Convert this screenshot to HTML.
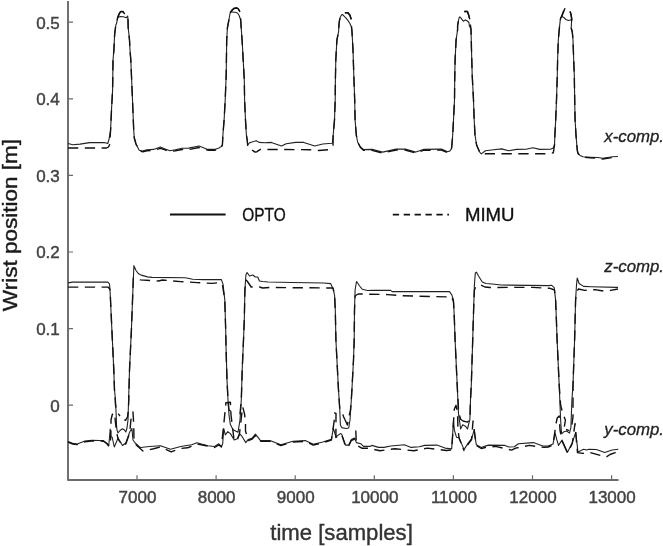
<!DOCTYPE html>
<html><head><meta charset="utf-8"><style>
html,body{margin:0;padding:0;background:#fff;width:663px;height:546px;overflow:hidden}
svg{display:block;will-change:transform}
text{font-family:"Liberation Sans",sans-serif}
</style></head><body>
<svg width="663" height="546" viewBox="0 0 663 546">
<rect width="663" height="546" fill="#fff"/>
<path d="M68 1V480H618.5" fill="none" stroke="#6a6a6a" stroke-width="1.9" stroke-linejoin="round"/>
<path d="M68 22.2H73M68 98.8H73M68 175.4H73M68 252.0H73M68 328.6H73M68 405.2H73M137.0 480V475.3M216.1 480V475.3M295.2 480V475.3M374.3 480V475.3M453.4 480V475.3M532.5 480V475.3M611.6 480V475.3" fill="none" stroke="#6a6a6a" stroke-width="1.2"/>
<g fill="none" stroke="#222" stroke-width="1.1" stroke-linejoin="round">
<path d="M68.0 143.5L72.8 144.7L80.0 144.1L89.7 142.6L104.2 142.5L107.8 143.5L109.0 139.3L110.6 130.0L111.5 110.0L112.6 90.0L113.0 60.0L113.9 50.0L114.6 35.0L115.4 28.0L115.9 25.0L116.7 23.0L117.2 20.0L117.7 17.4L120.3 16.5L123.3 16.7L126.4 17.7L127.7 16.0L128.0 20.0L128.2 28.0L129.0 35.0L129.5 40.0L130.0 50.0L130.8 60.0L132.5 100.0L133.7 130.0L134.3 138.0L136.0 144.0L139.2 150.2L142.8 151.0L146.8 149.8L153.6 149.4L160.4 147.1L164.4 148.7L169.9 150.8L175.3 149.8L182.0 148.3L188.8 148.1L199.0 146.0L207.8 149.4L214.6 149.4L219.0 148.0L221.4 146.4L222.4 145.0L222.9 135.0L224.1 120.0L225.2 100.0L226.2 75.0L226.7 40.0L227.4 28.0L227.9 25.0L228.7 21.0L229.4 17.0L230.2 13.0L231.2 11.5L233.3 12.3L235.3 12.3L237.4 13.0L238.9 15.0L240.0 18.0L240.7 20.0L241.2 28.0L242.1 40.0L243.2 60.0L244.3 80.0L244.6 100.0L245.5 120.0L246.4 135.0L247.2 140.0L247.7 145.0L249.7 142.7L256.3 140.7L259.0 142.4L264.5 142.7L271.3 142.4L281.5 146.0L286.2 143.7L295.7 142.4L303.8 142.4L314.7 146.0L322.8 144.0L331.7 143.3L332.4 143.0L333.2 135.0L334.5 120.0L335.2 100.0L335.4 80.0L335.8 60.0L336.9 40.0L338.6 31.7L338.9 25.5L339.4 20.9L340.2 17.3L341.7 14.8L342.5 14.5L343.8 15.8L345.8 17.8L347.9 20.4L349.9 23.5L351.5 27.1L352.0 31.7L353.0 50.0L353.8 75.0L354.7 100.0L355.1 120.0L356.3 135.0L357.6 142.0L360.4 147.0L363.7 149.6L372.0 149.4L382.6 152.1L396.2 149.1L405.2 149.1L415.8 152.1L423.3 149.4L441.4 149.1L447.5 151.8L449.9 150.9L451.3 149.1L451.9 145.0L452.7 135.0L453.5 120.0L454.5 100.0L454.7 80.0L455.1 60.0L456.1 40.0L457.6 29.7L457.6 25.6L458.4 21.0L459.2 17.4L459.9 16.9L461.2 18.4L463.3 21.2L465.3 19.9L467.4 21.0L468.9 22.5L469.4 26.1L471.0 29.2L471.5 50.0L472.2 75.0L473.5 100.0L474.2 120.0L475.0 135.0L476.6 145.0L479.6 152.0L481.3 153.9L485.4 150.8L493.6 149.7L501.7 148.9L508.5 150.8L516.6 149.4L526.1 149.2L532.9 147.8L539.7 149.4L550.6 149.2L553.2 148.0L554.5 145.0L554.9 135.0L555.7 120.0L556.5 100.0L557.3 75.0L557.6 60.0L558.3 40.0L559.4 28.0L560.2 20.5L560.7 17.9L561.7 16.4L563.8 17.4L565.8 19.5L568.4 20.5L570.4 20.0L571.7 19.0L571.5 23.0L571.2 28.0L572.3 32.0L573.0 40.0L573.7 60.0L574.3 75.0L574.7 100.0L575.1 120.0L576.0 135.0L576.8 145.0L577.3 150.0L578.0 153.0L580.0 155.5L583.0 156.8L590.0 157.2L597.8 157.5L602.7 158.3L612.6 156.7L618.0 156.5"/>
<path d="M68.0 282.9L72.5 282.1L108.0 282.1L109.5 284.0L110.0 290.0L111.9 330.0L113.8 370.0L114.5 390.0L115.5 400.0L116.2 415.0L116.5 425.0L117.0 430.0L118.0 433.0L120.0 430.5L122.5 428.8L124.5 430.0L125.8 432.0L127.0 428.0L128.0 420.0L128.6 400.0L129.5 370.0L131.4 330.0L132.9 290.0L133.5 275.0L133.9 265.6L136.0 270.5L138.6 273.8L142.0 275.4L147.6 276.9L152.0 277.4L185.2 277.8L192.8 279.3L203.3 279.6L221.4 279.6L223.0 284.1L224.8 300.0L225.7 330.0L226.1 350.0L227.0 380.0L228.0 400.0L229.0 415.0L230.4 424.6L233.0 429.7L238.0 432.3L240.0 420.0L241.3 400.0L242.2 370.0L243.5 340.0L244.3 320.0L244.9 290.0L245.9 275.0L247.1 272.5L249.5 276.0L252.8 275.0L255.3 277.0L257.8 277.0L259.4 281.0L262.7 281.5L268.1 282.0L292.6 282.5L323.8 283.0L330.6 283.6L333.3 289.2L334.6 295.6L335.3 310.0L335.9 340.0L338.5 390.0L339.7 408.0L340.4 425.0L341.7 427.6L346.2 428.5L348.7 428.0L350.0 420.0L351.3 400.0L351.9 390.0L353.5 360.0L354.2 340.0L354.5 310.0L355.1 290.0L356.4 282.0L356.8 281.7L359.6 286.0L362.2 289.2L367.3 290.5L372.5 290.4L390.6 290.4L392.1 291.6L449.5 291.6L451.7 294.6L453.5 300.0L454.4 320.0L455.1 340.0L457.2 385.0L458.5 413.8L459.9 423.5L460.6 429.0L462.7 424.8L465.4 426.2L467.5 429.0L468.8 423.5L469.9 419.3L470.5 400.0L471.3 385.0L472.7 340.0L473.6 310.0L474.4 285.0L475.3 273.0L476.5 272.2L478.5 276.0L482.3 282.0L486.0 283.5L492.0 284.0L501.3 285.0L548.8 285.6L551.5 285.2L554.2 287.6L555.6 300.0L556.4 320.0L557.1 340.0L559.2 385.0L560.6 419.3L561.3 430.3L561.7 433.8L564.0 431.7L566.8 431.0L569.5 433.1L570.9 427.6L571.9 400.0L573.0 385.0L574.6 340.0L575.6 300.0L576.5 285.0L577.2 278.0L579.1 283.5L583.6 286.4L591.3 286.7L616.9 287.4L618.0 287.4"/>
<path d="M68.0 441.5L72.8 443.4L77.3 444.0L84.9 441.1L91.6 440.2L99.9 440.5L103.5 440.6L107.1 443.4L108.8 445.5L110.2 429.0L111.0 437.0L112.1 437.0L114.3 447.0L118.1 438.0L122.5 445.5L125.8 443.0L129.7 432.0L131.9 428.5L133.0 440.0L135.2 443.0L139.6 447.0L140.7 447.5L149.5 446.5L160.4 445.8L170.5 449.2L180.7 446.5L191.6 444.7L197.0 442.8L207.8 445.8L214.6 446.5L218.8 443.8L221.4 446.4L222.7 443.8L223.7 428.5L225.3 434.9L227.8 431.7L230.4 433.6L234.2 440.0L237.4 438.7L239.4 433.6L241.9 436.2L245.8 442.6L248.3 439.4L252.2 438.1L255.4 434.2L258.6 438.1L260.4 440.6L269.9 440.6L280.8 444.8L293.0 441.3L305.2 440.6L313.3 444.2L322.8 442.0L331.4 439.4L333.3 428.5L334.6 432.3L335.9 436.8L340.4 433.6L341.7 434.2L345.5 445.1L348.7 445.1L351.3 439.4L354.5 438.1L356.4 442.6L360.9 443.8L363.5 446.4L369.9 446.4L371.8 445.4L378.6 447.4L384.0 447.4L390.8 446.0L404.3 444.7L411.1 447.4L419.3 446.7L424.7 445.4L436.9 445.1L445.0 448.1L451.7 448.9L453.5 420.7L454.4 430.3L456.5 437.2L459.2 437.9L464.0 449.6L467.5 444.1L471.6 438.6L474.3 429.6L475.0 437.2L476.4 444.8L481.2 447.5L485.3 446.1L488.6 445.1L504.9 445.4L508.9 447.0L514.3 446.7L518.4 443.7L533.3 442.6L542.8 446.0L548.2 446.1L553.0 444.1L555.1 433.1L556.5 438.6L558.5 445.4L562.0 440.0L567.5 452.3L572.3 442.7L575.7 432.3L577.2 445.1L577.9 451.9L580.6 450.7L583.6 449.2L586.6 450.0L588.9 449.2L596.4 449.5L604.7 452.6L607.7 451.5L612.2 450.0L618.3 449.2"/>
</g>
<g fill="none" stroke="#111" stroke-width="1.4" stroke-dasharray="10.3 6.5" stroke-linejoin="round">
<path d="M68.0 148.0L106.6 148.0L108.5 147.0L109.6 144.7L110.6 130.0L111.5 110.0L112.6 90.0L113.0 60.0L113.9 50.0L114.6 35.0L115.4 28.0L116.7 23.0L117.7 17.4L119.2 13.8L120.3 12.0L121.8 11.3L122.0 11.4" stroke-dashoffset="0.00"/>
<path d="M122.0 11.4L123.3 12.0L125.0 14.5L127.7 16.0L128.0 20.0L128.2 28.0L129.0 35.0L129.5 40.0L130.0 50.0L130.8 60.0L132.5 100.0L133.7 130.0L134.3 138.0L136.0 144.0L139.2 150.7L142.8 151.8L146.8 150.8L153.6 150.4L160.4 148.3L164.4 149.7L169.9 151.6L175.3 150.8L182.0 149.5L188.8 149.5L199.0 147.5L207.8 150.2L214.6 150.2L219.0 149.0L221.4 147.4L222.4 145.0L222.9 135.0L224.1 120.0L225.2 100.0L226.2 75.0L226.7 40.0L227.4 28.0L228.7 21.0L229.4 17.0L230.2 13.0L231.5 10.8L233.8 8.5L235.0 8.3" stroke-dashoffset="6.37"/>
<path d="M235.0 8.3L236.9 8.0L238.4 9.0L239.7 11.5L240.5 16.0L240.7 20.0L241.2 28.0L242.1 40.0L243.2 60.0L244.3 80.0L244.6 100.0L245.5 120.0L246.4 135.0L247.2 140.0L247.9 147.5L253.0 150.6L255.0 152.1L257.0 151.7L260.4 149.4L309.3 149.7L318.8 150.5L328.3 149.8L333.0 145.4L333.2 135.0L334.5 120.0L335.2 100.0L335.4 80.0L335.8 60.0L336.9 40.0L338.6 31.7L338.9 25.5L339.4 20.9L340.2 17.3L341.7 14.8L342.5 14.5L343.8 15.8M345.3 12.7L346.0 12.7" stroke-dashoffset="3.51"/>
<path d="M346.0 12.7L347.9 12.7L349.9 15.3L351.0 18.4L351.5 27.1L352.0 31.7L353.0 50.0L353.8 75.0L354.7 100.0L355.1 120.0L356.3 135.0L357.6 142.0L360.4 147.5L363.7 150.4L372.0 150.4L382.6 153.0L396.2 150.0L405.2 150.0L415.8 153.0L423.3 150.4L441.4 150.0L447.5 152.5L450.0 151.5L451.5 149.0L451.9 145.0L452.7 135.0L453.5 120.0L454.5 100.0L454.7 80.0L455.1 60.0L456.1 40.0L457.6 29.7L457.6 25.6L458.4 21.0L459.2 17.4L459.9 16.9M464.6 11.5L467.4 11.5L468.4 14.3L469.7 18.9L470.3 24.0L471.0 29.2L471.5 50.0L472.2 75.0L473.5 100.0L474.2 120.0L475.0 135.0L476.6 145.0L479.6 152.0L481.3 154.0L485.4 153.8L547.8 153.8L553.3 152.8L554.5 145.0L554.9 135.0L555.7 120.0L556.5 100.0L557.3 75.0L557.6 60.0L558.3 40.0L559.4 28.0L560.2 20.5L560.7 17.9L561.7 16.4L563.0 12.8L564.8 8.7M570.2 11.8L571.2 15.4L571.7 19.0L571.5 23.0L571.2 28.0L572.3 32.0L573.0 40.0L573.7 60.0L574.3 75.0L574.7 100.0L575.1 120.0L576.0 135.0L576.8 145.0L577.3 150.5L578.0 153.5L580.0 156.0L583.0 157.3L590.0 157.7L597.8 158.2L602.7 159.0L612.6 157.5L618.0 157.2" stroke-dashoffset="0.61"/>
<path d="M68.0 287.1L108.0 287.1L109.8 289.0L110.3 295.0L111.9 330.0L113.8 370.0L114.5 390.0L115.5 405.0L117.0 412.0L120.0 416.1" stroke-dashoffset="0.00"/>
<path d="M120.0 416.1L120.3 416.5L123.0 419.5L125.5 420.3L127.5 417.0L128.4 410.0L128.8 400.0L129.5 370.0L131.4 330.0L132.9 290.0L133.3 278.0L136.0 278.0L140.4 279.9L158.5 281.0L162.6 280.0L180.7 281.6L197.3 282.6L212.4 283.4L220.0 282.6L222.5 285.0L224.8 300.0L225.7 330.0L226.1 350.0L227.0 380.0L228.0 400.0L229.0 410.0L232.0 412.0L235.0 411.3" stroke-dashoffset="10.93"/>
<path d="M235.0 411.3L235.5 411.2L240.0 413.7L241.3 400.0L242.2 370.0L243.5 340.0L244.3 320.0L244.9 290.0L245.9 280.0L247.1 281.0L251.2 287.0L259.4 287.0L262.7 288.0L270.0 287.5L333.0 288.0L334.6 295.6L335.3 310.0L335.9 340.0L338.5 390.0L339.7 408.0L341.0 409.0L343.6 416.7L345.0 419.8" stroke-dashoffset="11.67"/>
<path d="M345.0 419.8L347.4 425.0L348.7 418.0L350.5 410.0L351.3 400.0L351.9 390.0L353.5 360.0L354.2 340.0L354.5 310.0L355.1 296.0L356.4 295.0L358.3 294.0L362.2 294.0L369.5 294.2L387.6 294.6L402.7 295.8L446.4 296.9L451.7 297.0L453.5 302.0L454.4 320.0L455.1 340.0L457.2 385.0L458.5 410.0L459.2 414.5L460.6 419.3L463.0 421.0" stroke-dashoffset="1.35"/>
<path d="M463.0 421.0L463.0 421.0L467.5 422.1L469.9 419.3L470.5 400.0L471.3 385.0L472.7 340.0L473.6 310.0L474.4 290.0L476.0 286.0L481.0 285.0L484.9 287.0L490.0 287.5L512.1 287.4L532.5 287.4L550.1 288.3L554.5 290.0L555.6 300.0L556.4 320.0L557.1 340.0L559.2 385.0L560.6 405.0L562.7 413.2L565.4 420.0L564.0 429.0L566.0 429.5" stroke-dashoffset="3.98"/>
<path d="M566.0 429.5L568.8 430.3L571.6 426.9L573.0 416.6L573.0 385.0L574.6 340.0L575.6 300.0L576.5 292.0L578.5 289.0L584.9 290.4L595.1 289.6L601.5 290.8L610.5 290.4L618.0 289.0" stroke-dashoffset="7.13"/>
<path d="M68.0 442.0L72.8 444.0L77.3 444.6L84.9 441.8L91.6 441.0L99.9 441.0L103.5 441.2L107.1 444.0L109.0 446.5L110.5 441.0L111.0 428.0L111.0 420.0L112.3 414.5L113.7 412.6L115.0 418.0L116.5 432.0L118.1 439.0L120.0 442.0" stroke-dashoffset="0.00"/>
<path d="M120.0 442.0L122.5 446.0L125.8 444.0L129.7 433.0L130.8 421.0L131.8 413.5L133.0 412.0L133.5 421.0L133.8 428.0L134.0 442.0L135.2 444.0L139.6 448.0L142.9 451.0L153.6 448.8L160.4 447.0L171.2 451.9L180.7 448.5L187.5 447.8L197.0 444.0L205.0 445.5L214.6 447.5L218.8 445.0L221.4 447.0L224.2 420.0L225.9 402.8L230.4 402.2L231.0 415.0L234.2 441.0L235.0 440.6" stroke-dashoffset="9.19"/>
<path d="M235.0 440.6L237.4 439.5L239.4 434.5L242.6 406.7L244.5 413.7L245.5 422.0L245.5 431.0L248.3 440.5L252.2 439.0L255.4 435.5L258.6 439.0L260.4 441.4L269.9 441.4L280.8 445.5L293.0 442.0L305.2 441.4L313.3 445.0L322.8 442.8L331.4 440.0L334.2 420.8L334.6 413.0L336.0 413.5L335.9 437.5L340.4 434.5L341.7 435.0L345.0 444.6" stroke-dashoffset="13.66"/>
<path d="M345.0 444.6L345.5 446.0L348.7 446.0L351.3 440.5L354.5 439.0L355.8 431.0L356.4 445.0L362.2 448.3L368.6 448.3L379.9 450.8L394.9 448.7L413.8 450.8L427.4 448.1L446.4 450.5L451.7 450.0L453.0 430.0L454.3 409.3L456.0 405.4L457.5 412.0L458.0 430.0L459.2 438.5L463.0 448.0" stroke-dashoffset="11.88"/>
<path d="M463.0 448.0L464.0 450.5L467.5 445.0L471.6 439.5L473.0 421.0L474.3 431.0L476.4 445.5L481.2 448.5L485.3 447.5L495.4 446.4L511.6 450.1L515.7 448.1L529.3 445.4L544.2 447.4L548.2 447.0L553.0 445.0L555.8 424.8L557.2 418.0L559.2 415.9L560.0 430.0L562.0 441.0L566.0 449.7" stroke-dashoffset="7.55"/>
<path d="M566.0 449.7L567.5 453.0L572.3 443.5L575.0 423.5L576.0 436.0L577.5 452.6L582.8 453.4L590.4 452.6L600.2 455.3L606.2 457.1L610.0 454.5L615.2 452.6L618.0 452.0" stroke-dashoffset="7.37"/>
</g>
<g fill="none" stroke="#111" stroke-width="1.4" stroke-linejoin="round" stroke-linecap="round">
<path d="M117.7 17.4L119.2 13.8L120.3 12.0L121.8 11.3L123.3 12.0"/>
<path d="M230.5 12.5L231.5 10.8L233.8 8.5L236.9 8.0L238.4 9.0L239.7 11.5"/>
<path d="M345.3 12.7L347.9 12.7L349.9 15.3L351.0 18.4"/>
<path d="M464.6 11.5L467.4 11.5L468.4 14.3L469.7 18.9"/>
<path d="M561.7 16.4L563.0 12.8L564.8 8.7"/>
<path d="M570.2 11.8L571.2 15.4L571.7 19.0"/>
</g>
<path d="M170 214.5H225.6" stroke="#111" stroke-width="1.8"/>
<path d="M392.8 214.6H449" stroke="#111" stroke-width="1.8" stroke-dasharray="6.3 4.6"/>
<text x="59.8" y="28.6" font-family="Liberation Sans, sans-serif" font-size="17" fill="#444" stroke="#444" stroke-width="0.45" text-anchor="end">0.5</text>
<text x="59.8" y="105.2" font-family="Liberation Sans, sans-serif" font-size="17" fill="#444" stroke="#444" stroke-width="0.45" text-anchor="end">0.4</text>
<text x="59.8" y="181.8" font-family="Liberation Sans, sans-serif" font-size="17" fill="#444" stroke="#444" stroke-width="0.45" text-anchor="end">0.3</text>
<text x="59.8" y="258.4" font-family="Liberation Sans, sans-serif" font-size="17" fill="#444" stroke="#444" stroke-width="0.45" text-anchor="end">0.2</text>
<text x="59.8" y="335.0" font-family="Liberation Sans, sans-serif" font-size="17" fill="#444" stroke="#444" stroke-width="0.45" text-anchor="end">0.1</text>
<text x="59.8" y="411.6" font-family="Liberation Sans, sans-serif" font-size="17" fill="#444" stroke="#444" stroke-width="0.45" text-anchor="end">0</text>
<text x="137.5" y="503.4" font-family="Liberation Sans, sans-serif" font-size="17" fill="#444" stroke="#444" stroke-width="0.45" text-anchor="middle">7000</text>
<text x="216.6" y="503.4" font-family="Liberation Sans, sans-serif" font-size="17" fill="#444" stroke="#444" stroke-width="0.45" text-anchor="middle">8000</text>
<text x="295.7" y="503.4" font-family="Liberation Sans, sans-serif" font-size="17" fill="#444" stroke="#444" stroke-width="0.45" text-anchor="middle">9000</text>
<text x="374.8" y="503.4" font-family="Liberation Sans, sans-serif" font-size="17" fill="#444" stroke="#444" stroke-width="0.45" text-anchor="middle">10000</text>
<text x="453.9" y="503.4" font-family="Liberation Sans, sans-serif" font-size="17" fill="#444" stroke="#444" stroke-width="0.45" text-anchor="middle">11000</text>
<text x="533.0" y="503.4" font-family="Liberation Sans, sans-serif" font-size="17" fill="#444" stroke="#444" stroke-width="0.45" text-anchor="middle">12000</text>
<text x="612.1" y="503.4" font-family="Liberation Sans, sans-serif" font-size="17" fill="#444" stroke="#444" stroke-width="0.45" text-anchor="middle">13000</text>
<text x="270.3" y="540.4" font-family="Liberation Sans, sans-serif" font-size="22.4" fill="#333" stroke="#333" stroke-width="0.4" textLength="142.5" lengthAdjust="spacingAndGlyphs">time [samples]</text>
<text transform="translate(17.3 311.2) rotate(-90)" font-family="Liberation Sans, sans-serif" font-size="21" fill="#1a1a1a" stroke="#1a1a1a" stroke-width="0.4" textLength="172.3" lengthAdjust="spacingAndGlyphs">Wrist position [m]</text>
<text x="242.3" y="220.7" font-family="Liberation Sans, sans-serif" font-size="18" fill="#111" stroke="#111" stroke-width="0.35" textLength="43.4" lengthAdjust="spacingAndGlyphs">OPTO</text>
<text x="464.9" y="220.7" font-family="Liberation Sans, sans-serif" font-size="18" fill="#111" stroke="#111" stroke-width="0.35" textLength="49.6" lengthAdjust="spacingAndGlyphs">MIMU</text>
<text x="604.3" y="141.8" font-family="Liberation Sans, sans-serif" font-size="16.8" font-style="italic" fill="#222" stroke="#222" stroke-width="0.3">x-comp.</text>
<text x="604.3" y="271.5" font-family="Liberation Sans, sans-serif" font-size="16.8" font-style="italic" fill="#222" stroke="#222" stroke-width="0.3">z-comp.</text>
<text x="604.3" y="434.8" font-family="Liberation Sans, sans-serif" font-size="16.8" font-style="italic" fill="#222" stroke="#222" stroke-width="0.3">y-comp.</text>
</svg>
</body></html>
